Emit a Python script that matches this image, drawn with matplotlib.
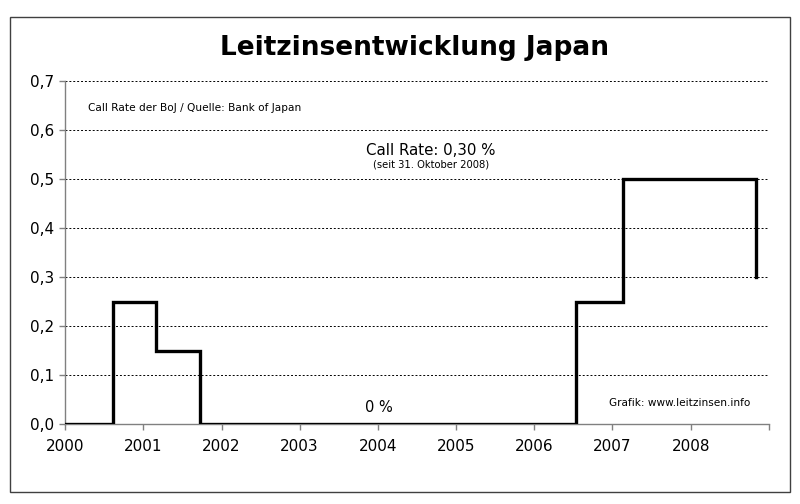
import datetime as dt
import matplotlib
matplotlib.use("Agg")
import matplotlib.pyplot as plt
from matplotlib.patches import Rectangle
from matplotlib.ticker import FuncFormatter

# Leitzins (Call Rate) der Bank of Japan, Änderungszeitpunkte
datum = [dt.date(2000, 1, 1), dt.date(2000, 8, 11), dt.date(2001, 2, 28),
         dt.date(2001, 9, 24), dt.date(2006, 7, 14), dt.date(2007, 2, 21),
         dt.date(2008, 10, 31)]
zins = [0.0, 0.25, 0.15, 0.0, 0.25, 0.5, 0.3]

jahre = list(range(2000, 2010))
jahr_labels = [str(j) for j in range(2000, 2009)] + [""]
y_ticks = [0.0, 0.1, 0.2, 0.3, 0.4, 0.5, 0.6, 0.7]

fig = plt.figure(figsize=(8, 5.04), dpi=100)
ax = fig.add_axes([0.08125, 0.1587, 0.88, 0.6806])

# Rahmen um die ganze Grafik
fig.patches.append(Rectangle((0.0125, 0.024), 0.975, 0.942, transform=fig.transFigure,
                             fill=False, edgecolor="#404040", linewidth=1.0))

ax.plot(datum, zins, drawstyle="steps-post", color="black", linewidth=2.4,
        solid_joinstyle="miter", zorder=3)

ax.set_xlim(dt.date(2000, 1, 1), dt.date(2009, 1, 1))
ax.set_ylim(0, 0.7)
ax.set_xticks([dt.date(j, 1, 1) for j in jahre])
ax.set_xticklabels(jahr_labels)
ax.set_yticks(y_ticks)
ax.yaxis.set_major_formatter(FuncFormatter(lambda v, p: f"{v:.1f}".replace(".", ",")))

for v in y_ticks[1:]:
    ax.axhline(v, color="black", linewidth=0.7, linestyle=(0, (2, 2)), zorder=1)

for s in ["top", "right"]:
    ax.spines[s].set_visible(False)
for s in ["left", "bottom"]:
    ax.spines[s].set_color("#808080")
    ax.spines[s].set_linewidth(1.0)

ax.tick_params(axis="both", colors="#808080", labelcolor="black", labelsize=11,
               length=4, width=1.0)
ax.tick_params(axis="x", pad=7)

fig.text(0.518, 0.905, "Leitzinsentwicklung Japan", ha="center", va="center",
         fontsize=19, fontweight="bold")

ax.text(0.032, 0.92, "Call Rate der BoJ / Quelle: Bank of Japan", transform=ax.transAxes,
        fontsize=7.6, va="center", ha="left")
ax.text(0.52, 0.797, "Call Rate: 0,30 %", transform=ax.transAxes,
        fontsize=10.8, va="center", ha="center")
ax.text(0.52, 0.756, "(seit 31. Oktober 2008)", transform=ax.transAxes,
        fontsize=7.2, va="center", ha="center")
ax.text(0.446, 0.048, "0 %", transform=ax.transAxes,
        fontsize=10.5, va="center", ha="center")
ax.text(0.974, 0.062, "Grafik: www.leitzinsen.info", transform=ax.transAxes,
        fontsize=7.6, va="center", ha="right")

fig.savefig("out.png", dpi=100)
